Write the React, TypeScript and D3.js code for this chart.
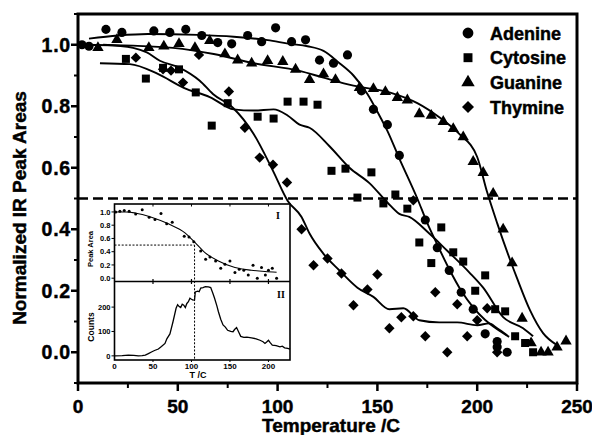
import React from 'react';
import * as d3 from 'd3';

// main plot data: [temperature, normalized area]
const adeninePts = [
  [2, 1.0], [5.5, 0.995], [14, 1.05], [22, 1.04], [38, 1.045], [46, 1.04], [54, 1.05], [62, 1.03],
  [70, 1.007], [77, 1.003], [85, 1.03], [92, 1.01], [99, 1.055], [107, 1.01], [114, 1.016],
  [121, 0.95], [128, 0.94], [135, 0.967], [142, 0.85], [148, 0.79], [155, 0.74], [161, 0.64],
  [174, 0.43], [180, 0.34], [186, 0.266], [192, 0.195], [198, 0.14], [204, 0.06], [210, 0.017],
  [210, 0.035], [215, 0.0],
];
const adenineFit = [
  [5.5, 1.02], [20, 1.03], [35, 1.035], [60, 1.032], [78, 1.026], [95, 1.015], [106, 1.003],
  [115, 0.995], [123, 0.98], [131, 0.94], [138, 0.9], [145, 0.84], [151, 0.77], [155, 0.72],
  [161, 0.63], [170, 0.5], [175, 0.42], [180, 0.35], [186, 0.27], [192, 0.2], [198, 0.146],
  [204, 0.105], [210, 0.075], [216, 0.05],
];
const cytosinePts = [
  [24, 0.954], [34, 0.89], [42.6, 0.925], [50.6, 0.92], [59, 0.845], [67, 0.737], [75, 0.81],
  [90, 0.766], [98, 0.76], [105, 0.815], [113, 0.815], [120, 0.805], [127, 0.59], [134, 0.597],
  [140, 0.503], [147, 0.585], [153, 0.484], [159, 0.513], [165, 0.467], [171, 0.357], [177, 0.29],
  [182, 0.406], [188, 0.325], [193, 0.295], [199, 0.2], [204, 0.25], [209, 0.14], [214, 0.133],
  [219, 0.052], [224, 0.03], [228, 0.0],
];
const cytosineFit = [
  [11, 0.94], [26, 0.937], [40, 0.905], [53, 0.86], [66, 0.83], [78, 0.79], [88, 0.786],
  [98, 0.79], [105, 0.77], [111, 0.74], [116, 0.73], [126, 0.67], [136, 0.6], [146, 0.55],
  [155, 0.487], [161, 0.45], [166, 0.44], [176, 0.386], [185, 0.33], [196, 0.26], [203, 0.21],
  [213, 0.114], [223, 0.078], [228, 0.052],
];
const guaninePts = [
  [10, 0.99], [19.5, 1.016], [35.5, 0.99], [43, 0.995], [50.6, 1.003], [58.6, 0.99], [66, 1.013],
  [73.6, 0.97], [80, 0.95], [87, 0.94], [95, 0.948], [102.6, 0.945], [109, 0.92], [116, 0.886],
  [123, 0.905], [129, 0.886], [141, 0.86], [148, 0.857], [154, 0.847], [160, 0.828], [165, 0.82],
  [171, 0.775], [177, 0.77], [183, 0.75], [188, 0.727], [193, 0.7], [198, 0.62], [203, 0.584],
  [208, 0.516], [213, 0.4], [217.5, 0.29], [222.5, 0.11], [227, 0.03], [232, 0.0], [235.5, 0.0],
  [240, 0.016], [244.5, 0.036],
];
const guanineFit = [
  [1, 1.0], [27.6, 0.997], [47.6, 0.99], [68, 0.97], [88, 0.94], [111, 0.915], [123, 0.893],
  [138, 0.867], [156, 0.845], [170, 0.81], [181, 0.764], [191, 0.71], [200, 0.635], [205, 0.52],
  [210, 0.42], [216.5, 0.3], [220, 0.24], [226.5, 0.136], [233, 0.062], [240, 0.023],
];
const thyminePts = [
  [29, 0.958], [42.6, 0.92], [46.6, 0.916], [52.6, 0.877], [60.6, 0.967], [75.6, 0.848],
  [83.6, 0.73], [91, 0.633], [97.7, 0.61], [104.7, 0.552], [112, 0.4], [118, 0.283], [125, 0.305],
  [132, 0.256], [138, 0.153], [145, 0.204], [150, 0.253], [156, 0.078], [162, 0.114], [168, 0.117],
  [168, 0.494], [174, 0.052], [179, 0.195], [185, 0.0], [190, 0.156], [195, 0.052], [200, 0.104],
  [205, 0.143], [210, 0.0],
];
const thymineFit = [
  [12.6, 1.0], [27.6, 0.99], [34.5, 0.975], [41, 0.948], [51, 0.925], [61, 0.883], [67.6, 0.84],
  [77.6, 0.795], [88, 0.71], [97.7, 0.59], [105, 0.493], [112, 0.44], [116, 0.386], [123, 0.32],
  [131, 0.266], [140, 0.21], [148, 0.18], [156, 0.14], [163, 0.143], [171, 0.104], [181, 0.097],
  [190, 0.097], [200, 0.088], [206, 0.094], [210, 0.078], [215, 0.055],
];

const xTicks = [0, 50, 100, 150, 200, 250];
const yTicks = [0.0, 0.2, 0.4, 0.6, 0.8, 1.0];
const legendNames = ['Adenine', 'Cytosine', 'Guanine', 'Thymine'];

// inset data
const insetPts = [
  [1.5, 1.0], [7, 1.01], [12.7, 1.02], [19, 1.01], [27.5, 0.97], [36, 1.035], [45, 0.92],
  [52.6, 0.885], [60.4, 0.975], [67.8, 0.82], [75, 0.845], [90.6, 0.635], [96.8, 0.62],
  [103, 0.55], [112, 0.41], [118.4, 0.285], [124, 0.32], [131.4, 0.26], [138, 0.15], [143.5, 0.21],
  [150, 0.26], [156.5, 0.085], [162, 0.135], [168, 0.12], [173.8, 0.05], [180, 0.195],
  [185.5, 0.0], [191, 0.16], [196, 0.05], [200, 0.12], [205, 0.15], [210.6, 0.0],
];
const insetFit = [
  [0, 1.0], [15, 1.0], [26.6, 0.985], [48, 0.92], [70, 0.82], [91.6, 0.685], [104.5, 0.54],
  [117.5, 0.385], [135, 0.26], [156.5, 0.16], [177.8, 0.12], [195.5, 0.1], [210.6, 0.09],
];
const counts = [
  [0, 0], [10, 1], [18, 3], [25, 2], [31, 0], [36, 1], [40, 3], [44, 9], [48, 16], [52, 22],
  [57, 28], [61, 38], [65.6, 51], [68, 70], [72, 90], [76, 140], [80, 195], [82, 210], [84, 202],
  [86, 198], [88, 212], [90, 208], [92, 198], [94, 215], [96, 222], [98, 236], [100, 232],
  [102, 229], [104, 230], [105, 262], [108, 265], [110, 263], [112, 278], [115, 280], [118, 284],
  [122, 283], [125, 280], [128, 255], [130, 236], [133, 205], [135, 181], [138, 150], [141, 127],
  [144, 118], [147, 105], [151, 100], [154, 99], [156, 108], [158.6, 116], [161, 100], [164, 80],
  [168, 76], [172, 77], [178, 74], [184, 70], [189, 64], [193, 58], [195.5, 51], [198, 58],
  [200, 64], [202, 55], [205, 44], [210, 42], [215, 37], [218, 40], [221, 33], [225, 31], [228, 28],
];
const insetXTicks = [0, 50, 100, 150, 200];
const insetTopTicks = [0.0, 0.2, 0.4, 0.6, 0.8, 1.0];
const insetBotTicks = [0, 100, 200];
const meltT = 104;

const font = '"Liberation Sans", Arial, Helvetica, sans-serif';

const x = d3.scaleLinear().domain([0, 250]).range([78, 577]);
const y = d3.scaleLinear().domain([-0.1, 1.1]).range([383, 14]);
const ix = d3.scaleLinear().domain([0, 228]).range([114.5, 290]);
const iyT = d3.scaleLinear().domain([-0.05, 1.12]).range([281.5, 204]);
const iyB = d3.scaleLinear().domain([-17, 305]).range([360, 281.5]);

const mainLine = d3.line<number[]>().x((d) => x(d[0])).y((d) => y(d[1])).curve(d3.curveMonotoneX);
const fitLine = d3.line<number[]>().x((d) => ix(d[0])).y((d) => iyT(d[1])).curve(d3.curveMonotoneX);
const countLine = d3.line<number[]>().x((d) => ix(d[0])).y((d) => iyB(d[1]));

const shapes = [
  { d: d3.symbol(d3.symbolCircle, 66)(), rot: 0, big: d3.symbol(d3.symbolCircle, 92)() },
  { d: d3.symbol(d3.symbolSquare, 64)(), rot: 0, big: d3.symbol(d3.symbolSquare, 80)() },
  { d: d3.symbol(d3.symbolTriangle, 56)(), rot: 0, big: d3.symbol(d3.symbolTriangle, 78)() },
  { d: d3.symbol(d3.symbolSquare, 54)(), rot: 45, big: d3.symbol(d3.symbolSquare, 72)() },
];

const series = [
  { pts: adeninePts, fit: adenineFit },
  { pts: cytosinePts, fit: cytosineFit },
  { pts: guaninePts, fit: guanineFit },
  { pts: thyminePts, fit: thymineFit },
];

// slight outline makes the bold labels as heavy as the scanned original
const heavy = { stroke: '#000', strokeWidth: 0.45 };

export default function App() {
  const xMinor = d3.range(25, 250, 50);
  const yMinor = d3.range(-0.1, 1.11, 0.2);
  return (
    <svg width={592} height={435} style={{ display: 'block', position: 'absolute', left: 0, top: 0 }}
      fontFamily={font} fontWeight="bold">
      <rect width={592} height={435} fill="#fff" />

      {/* 0.5 dashed reference */}
      <line x1={x(0)} x2={x(250)} y1={y(0.5)} y2={y(0.5)} stroke="#000" strokeWidth={2.5}
        strokeDasharray="10,5" />

      {/* fits and points */}
      {series.map((s, i) => (
        <g key={i}>
          <path d={mainLine(s.fit) || ''} fill="none" stroke="#000" strokeWidth={1.9} />
          {s.pts.map((p, j) => (
            <path key={j} d={shapes[i].d || ''}
              transform={`translate(${x(p[0])},${y(p[1])}) rotate(${shapes[i].rot})`} fill="#000" />
          ))}
        </g>
      ))}

      {/* frame */}
      <rect x={x(0)} y={y(1.1)} width={x(250) - x(0)} height={y(-0.1) - y(1.1)} fill="none"
        stroke="#000" strokeWidth={3} />

      {/* x axis ticks */}
      {xTicks.map((t) => (
        <g key={t}>
          <line x1={x(t)} x2={x(t)} y1={y(-0.1)} y2={y(-0.1) + 8} stroke="#000" strokeWidth={2.5} />
          <text x={x(t)} y={413} fontSize={19} textAnchor="middle" {...heavy}>{t}</text>
        </g>
      ))}
      {xMinor.map((t) => (
        <line key={t} x1={x(t)} x2={x(t)} y1={y(-0.1)} y2={y(-0.1) + 5} stroke="#000" strokeWidth={2} />
      ))}
      {/* y axis ticks */}
      {yTicks.map((t) => (
        <g key={t}>
          <line x1={x(0) - 7} x2={x(0)} y1={y(t)} y2={y(t)} stroke="#000" strokeWidth={2.5} />
          <text x={71} y={y(t) + 6.8} fontSize={19.5} letterSpacing={0.8} textAnchor="end" {...heavy}>
            {t.toFixed(1)}
          </text>
        </g>
      ))}
      {yMinor.map((t) => (
        <line key={t} x1={x(0) - 4} x2={x(0)} y1={y(t)} y2={y(t)} stroke="#000" strokeWidth={2} />
      ))}

      <text x={331} y={432} fontSize={19} textAnchor="middle" {...heavy}>Temperature /C</text>
      <text transform="translate(26,208) rotate(-90)" fontSize={19} textAnchor="middle" {...heavy}>
        Normalized IR Peak Areas
      </text>

      {/* legend */}
      {legendNames.map((n, i) => (
        <g key={n} transform={`translate(0,${i * 24.7})`}>
          <path d={shapes[i].big || ''} fill="#000"
            transform={`translate(468,33) rotate(${shapes[i].rot})`} />
          <text x={490} y={39.5} fontSize={18} {...heavy}>{n}</text>
        </g>
      ))}

      {/* inset */}
      <g>
        <rect x={ix(0)} y={204} width={ix(228) - ix(0)} height={156} fill="#fff" stroke="#000"
          strokeWidth={1.6} />
        <line x1={ix(0)} x2={ix(228)} y1={281.5} y2={281.5} stroke="#000" strokeWidth={1.4} />
        {insetXTicks.filter((t) => t > 0).map((t) => (
          <g key={t}>
            <line x1={ix(t)} x2={ix(t)} y1={279} y2={284} stroke="#000" strokeWidth={1.2} />
            <line x1={ix(t)} x2={ix(t)} y1={204} y2={206.5} stroke="#000" strokeWidth={1} />
            <line x1={ix(t)} x2={ix(t)} y1={360} y2={362} stroke="#000" strokeWidth={1} />
          </g>
        ))}
        {insetXTicks.map((t) => (
          <text key={t} x={ix(t)} y={369} fontSize={8} textAnchor="middle">{t}</text>
        ))}
        <text x={198} y={377.5} fontSize={9} textAnchor="middle">T /C</text>
        {insetTopTicks.map((t) => (
          <g key={t}>
            <line x1={ix(0) - 3} x2={ix(0)} y1={iyT(t)} y2={iyT(t)} stroke="#000" strokeWidth={1} />
            <text x={110.5} y={iyT(t) + 2.8} fontSize={7.5} textAnchor="end">{t.toFixed(1)}</text>
          </g>
        ))}
        {insetBotTicks.map((t) => (
          <g key={t}>
            <line x1={ix(0) - 3} x2={ix(0)} y1={iyB(t)} y2={iyB(t)} stroke="#000" strokeWidth={1} />
            <text x={110.5} y={iyB(t) + 2.8} fontSize={7.5} textAnchor="end">{t}</text>
          </g>
        ))}
        <text transform="translate(93,249) rotate(-90)" fontSize={7.5} textAnchor="middle">Peak Area</text>
        <text transform="translate(93.5,327) rotate(-90)" fontSize={8.5} textAnchor="middle">Counts</text>

        <line x1={ix(0)} x2={ix(meltT)} y1={iyT(0.5)} y2={iyT(0.5)} stroke="#000" strokeWidth={1}
          strokeDasharray="2,1.6" />
        <line x1={ix(meltT)} x2={ix(meltT)} y1={iyT(0.5)} y2={360} stroke="#000" strokeWidth={1}
          strokeDasharray="2,1.6" />

        <path d={fitLine(insetFit) || ''} fill="none" stroke="#000" strokeWidth={1.1} />
        {insetPts.map((p, j) => (
          <circle key={j} cx={ix(p[0])} cy={iyT(p[1])} r={1.5} fill="#000" />
        ))}
        <path d={countLine(counts) || ''} fill="none" stroke="#000" strokeWidth={1.3} />

        <text x={278} y={219} fontSize={10} textAnchor="middle" fontFamily='"Liberation Serif", serif'>I</text>
        <text x={281} y={297.5} fontSize={10} textAnchor="middle" fontFamily='"Liberation Serif", serif'>II</text>
      </g>
    </svg>
  );
}
